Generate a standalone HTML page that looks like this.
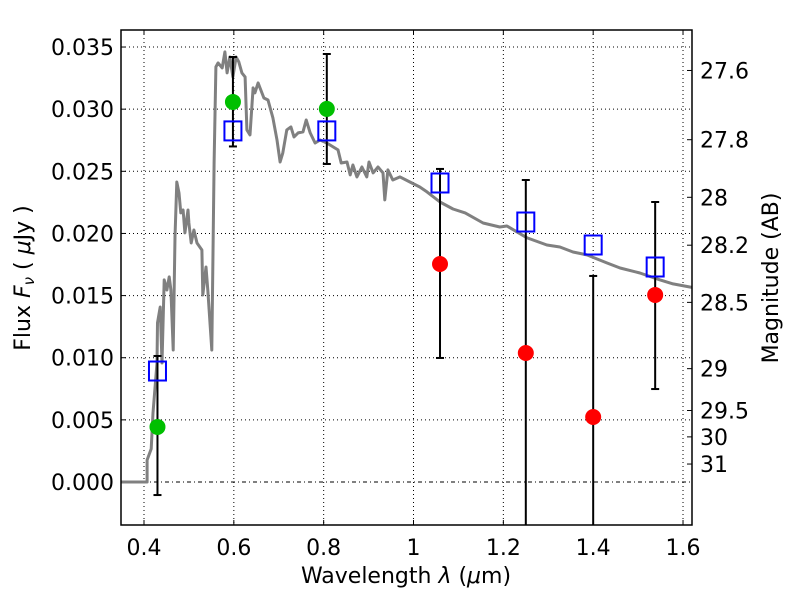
<!DOCTYPE html>
<html><head><meta charset="utf-8"><style>
html,body{margin:0;padding:0;background:#fff;width:800px;height:600px;overflow:hidden}
svg text{font-family:"DejaVu Sans","Liberation Sans",sans-serif;fill:#000}
</style></head><body>
<svg id="chart" width="800" height="600" xmlns="http://www.w3.org/2000/svg"></svg>
<script>
const xTicks=[0.4,0.6,0.8,1.0,1.2,1.4,1.6];
const xTickLabels=["0.4","0.6","0.8","1","1.2","1.4","1.6"];
const yTicks=[0,0.005,0.01,0.015,0.02,0.025,0.03,0.035];
const yTickLabels=["0.000","0.005","0.010","0.015","0.020","0.025","0.030","0.035"];
const magTicks=[27.6,27.8,28,28.2,28.5,29,29.5,30,31];
const magTickLabels=["27.6","27.8","28","28.2","28.5","29","29.5","30","31"];
const sedWave=[0.347,0.407,0.407,0.416,0.420,0.429,0.430,0.436,0.440,0.445,0.451,0.456,0.460,0.465,0.469,0.473,0.478,0.482,0.487,0.491,0.498,0.500,0.505,0.511,0.518,0.529,0.531,0.538,0.542,0.551,0.556,0.560,0.565,0.574,0.580,0.585,0.591,0.598,0.605,0.611,0.618,0.625,0.629,0.636,0.643,0.647,0.654,0.667,0.676,0.687,0.696,0.703,0.709,0.718,0.727,0.734,0.743,0.754,0.761,0.770,0.781,0.792,0.807,0.821,0.832,0.839,0.852,0.859,0.865,0.874,0.885,0.896,0.901,0.910,0.921,0.932,0.936,0.943,0.954,0.970,0.992,1.014,1.030,1.059,1.088,1.115,1.155,1.192,1.208,1.253,1.297,1.326,1.355,1.386,1.431,1.460,1.504,1.549,1.578,1.615,1.63];
const sedFlux=[0,0,0.00177,0.00266,0.00555,0.00958,0.0128,0.01408,0.00958,0.01626,0.01545,0.0165,0.01545,0.01062,0.01972,0.02414,0.02326,0.02165,0.02189,0.02004,0.02189,0.02084,0.01923,0.02028,0.01923,0.01867,0.01505,0.0173,0.01545,0.01062,0.02567,0.0334,0.03372,0.03332,0.03461,0.03292,0.0342,0.0326,0.0342,0.0338,0.03292,0.0326,0.02833,0.02793,0.03171,0.03131,0.03211,0.0309,0.03074,0.0293,0.02752,0.02575,0.02648,0.02833,0.02857,0.02777,0.02809,0.02817,0.02913,0.02809,0.02728,0.02752,0.02728,0.02696,0.02672,0.02567,0.02575,0.02471,0.02551,0.02455,0.02535,0.02455,0.02575,0.02487,0.02535,0.02487,0.0227,0.02511,0.0243,0.02455,0.02414,0.02374,0.02334,0.02253,0.02197,0.02165,0.02084,0.02052,0.0206,0.01964,0.01907,0.01891,0.01851,0.01827,0.01762,0.01722,0.01682,0.01626,0.01594,0.01569,0.0156];
const bandWave=[0.43,0.598,0.807,1.059,1.250,1.400,1.538];
const modelFlux=[0.00893,0.02825,0.02825,0.02406,0.02092,0.01907,0.0173];
const errHigh=[0.01014,0.0342,0.03444,0.02519,0.0243,0.01658,0.02253];
const errLow=[-0.00105,0.0270,0.02559,0.00998,-0.006,-0.006,0.00748];
const greenWave=[0.43,0.598,0.807];
const greenFlux=[0.00443,0.03058,0.03002];
const redWave=[1.059,1.250,1.400,1.538];
const redFlux=[0.01754,0.01038,0.00523,0.01505];

const L=121,R=692,T=30,B=525,xmin=0.3488,xmax=1.6200,ymin=-0.00346,ymax=0.03637;
const X=v=>L+(v-xmin)/(xmax-xmin)*(R-L);
const Y=v=>B-(v-ymin)/(ymax-ymin)*(B-T);
const magToFlux=m=>Math.pow(10,(23.9-m)/2.5);
const svg=document.getElementById('chart');
const NS='http://www.w3.org/2000/svg';
function mk(tag,attrs,parent){const e=document.createElementNS(NS,tag);for(const k in attrs)e.setAttribute(k,attrs[k]);(parent||svg).appendChild(e);return e;}

xTicks.forEach((v,i)=>{
  const g=mk('line',{x1:X(v),x2:X(v),y1:T,y2:B,stroke:'#000','stroke-width':1,'stroke-dasharray':'1,3'});
  
  
  const t=mk('line',{x1:X(v),x2:X(v),y1:B,y2:B-5,stroke:'#000'});
  
  
  const t2=mk('line',{x1:X(v),x2:X(v),y1:T,y2:T+5,stroke:'#000'});
  
  
  const lb=mk('text',{x:X(v),y:B+30,'text-anchor':'middle','font-size':22});
  lb.textContent=xTickLabels[i];
  
  
});
yTicks.forEach((v,i)=>{
  const g=mk('line',{x1:L,x2:R,y1:Y(v),y2:Y(v),stroke:'#000','stroke-width':1,'stroke-dasharray':v===0?'4,3,1,3':'1,3'});
  
  
  const t=mk('line',{x1:L,x2:L+5,y1:Y(v),y2:Y(v),stroke:'#000'});
  
  
  const lb=mk('text',{x:L-7,y:Y(v)+8,'text-anchor':'end','font-size':22});
  lb.textContent=yTickLabels[i];
  
  
});
magTicks.forEach((m,i)=>{
  const y=Y(magToFlux(m));
  const t=mk('line',{x1:R,x2:R-5,y1:y,y2:y,stroke:'#000'});
  
  
  const lb=mk('text',{x:R+8,y:y+8,'font-size':22});
  lb.textContent=magTickLabels[i];
  
  
});

const d=sedWave.map((w,i)=>(i?'L':'M')+X(w).toFixed(1)+','+Y(sedFlux[i]).toFixed(1)).join(' ');
const clip=mk('clipPath',{id:'pc'});mk('rect',{x:L,y:T,width:R-L,height:B-T},clip);
const sed=mk('path',{d:d,fill:'none',stroke:'#808080','stroke-width':3,'stroke-linejoin':'round','clip-path':'url(#pc)'});



bandWave.forEach((w,i)=>{
  const x=X(w),y1=Y(errHigh[i]),y2=Math.min(Y(errLow[i]),B);
  const e=mk('line',{x1:x,x2:x,y1:y1,y2:y2,stroke:'#000','stroke-width':2});
  
  
  const c=mk('line',{x1:x-4,x2:x+4,y1:y1,y2:y1,stroke:'#000','stroke-width':2});
  
  
  if(Y(errLow[i])<B){
    const c2=mk('line',{x1:x-4,x2:x+4,y1:y2,y2:y2,stroke:'#000','stroke-width':2});
    
    
  }
});
greenWave.forEach((w,i)=>{
  const c=mk('circle',{cx:X(w),cy:Y(greenFlux[i]),r:8,fill:'#00bf00'});
  
  
});
redWave.forEach((w,i)=>{
  const c=mk('circle',{cx:X(w),cy:Y(redFlux[i]),r:8,fill:'#ff0000'});
  
  
});
bandWave.forEach((w,i)=>{
  const s=mk('rect',{x:X(w)-8.5,y:Y(modelFlux[i])-9.5,width:17,height:19,fill:'none',stroke:'#0000ff','stroke-width':2});
  
  
});

const f=mk('rect',{x:L,y:T,width:R-L,height:B-T,fill:'none',stroke:'#000','stroke-width':1.5});


</script>
<svg style="position:absolute;left:0;top:0" width="800" height="600" xmlns="http://www.w3.org/2000/svg">
<text x="406" y="583" text-anchor="middle" font-size="22">Wavelength  <tspan font-style="italic">λ</tspan> (<tspan font-style="italic">μ</tspan>m)</text>
<text transform="translate(30,278) rotate(-90)" text-anchor="middle" font-size="22">Flux  <tspan font-style="italic">F</tspan><tspan font-style="italic" font-size="15" dy="4">ν</tspan><tspan dy="-4">  ( </tspan><tspan font-style="italic">μ</tspan>Jy )</text>
<text transform="translate(778,278) rotate(-90)" text-anchor="middle" font-size="22">Magnitude (AB)</text>
</svg>
</body></html>
